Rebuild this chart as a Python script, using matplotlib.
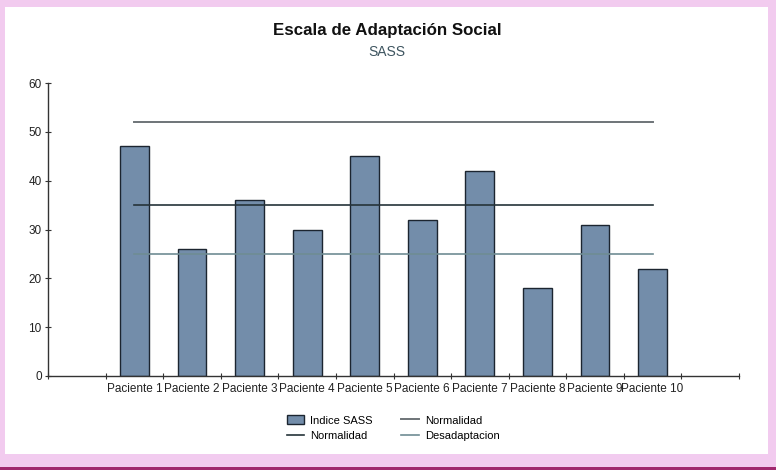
import numpy as np
import matplotlib.pyplot as plt
from matplotlib.patches import Rectangle

plt.rcParams['font.family'] = ['Liberation Sans', 'DejaVu Sans']

pacientes = ['Paciente 1', 'Paciente 2', 'Paciente 3', 'Paciente 4', 'Paciente 5',
             'Paciente 6', 'Paciente 7', 'Paciente 8', 'Paciente 9', 'Paciente 10']
indice_sass = [47, 26, 36, 30, 45, 32, 42, 18, 31, 22]
normalidad_alta = [52] * 10
normalidad_baja = [35] * 10
desadaptacion = [25] * 10

W, H = 776, 470
fig = plt.figure(figsize=(W / 100, H / 100), dpi=100)
fig.patch.set_facecolor('#f2cbef')

# white panel inside the pink frame
fig.patches.append(Rectangle((5 / W, 16 / H), 763 / W, 447 / H, transform=fig.transFigure,
                             facecolor='white', edgecolor='none', zorder=-2))
fig.patches.append(Rectangle((0, 0), 1, 3 / H, transform=fig.transFigure,
                             facecolor='#a0286e', edgecolor='none', zorder=-2))

ax = fig.add_axes([48 / W, 94 / H, 691 / W, 293 / H])
ax.set_facecolor('none')
ax.set_zorder(1)

x = np.arange(1, 11)
bars = ax.bar(x, indice_sass, width=0.5, color='#738daa', edgecolor='#1c2530',
              linewidth=1.0, label='Indice SASS', zorder=2)
l1, = ax.plot(x, normalidad_alta, color='#6e7478', lw=1.4, label='Normalidad', zorder=3)
l2, = ax.plot(x, normalidad_baja, color='#25333a', lw=1.2, label='Normalidad', zorder=3)
l3, = ax.plot(x, desadaptacion, color='#6f8c94', lw=1.2, label='Desadaptacion', zorder=3)

ax.set_xlim(-0.5, 11.5)
ax.set_ylim(0, 60)
ax.set_yticks(range(0, 61, 10))
ax.set_xticks(np.arange(-0.5, 12, 1))
ax.set_xticklabels([])
ax.set_xticks(x, minor=True)
ax.set_xticklabels(pacientes, minor=True, fontsize=8.5, color='#222222')
ax.tick_params(axis='x', which='minor', length=0, pad=5)
ax.tick_params(axis='x', which='major', direction='inout', length=5, color='#333333')
ax.tick_params(axis='y', direction='inout', length=5, color='#333333',
               labelsize=8.5, labelcolor='#222222', pad=2)
for s in ['top', 'right']:
    ax.spines[s].set_visible(False)
for s in ['left', 'bottom']:
    ax.spines[s].set_color('#333333')
    ax.spines[s].set_linewidth(1.0)

fig.text(387 / W, 1 - 31 / H, 'Escala de Adaptación Social', ha='center', va='center',
         fontsize=12.2, fontweight='bold', color='#111111')
fig.text(387 / W, 1 - 52 / H, 'SASS', ha='center', va='center',
         fontsize=10, color='#3e5560')

fig.legend([bars, l2, l1, l3], ['Indice SASS', 'Normalidad', 'Normalidad', 'Desadaptacion'],
           ncol=2, loc='center', bbox_to_anchor=(393 / W, 1 - 428 / H), frameon=False,
           fontsize=8, handlelength=1.6, handleheight=0.9, columnspacing=2.6,
           labelspacing=0.45, handletextpad=0.5)

fig.savefig('out.png', dpi=100, facecolor=fig.get_facecolor())
